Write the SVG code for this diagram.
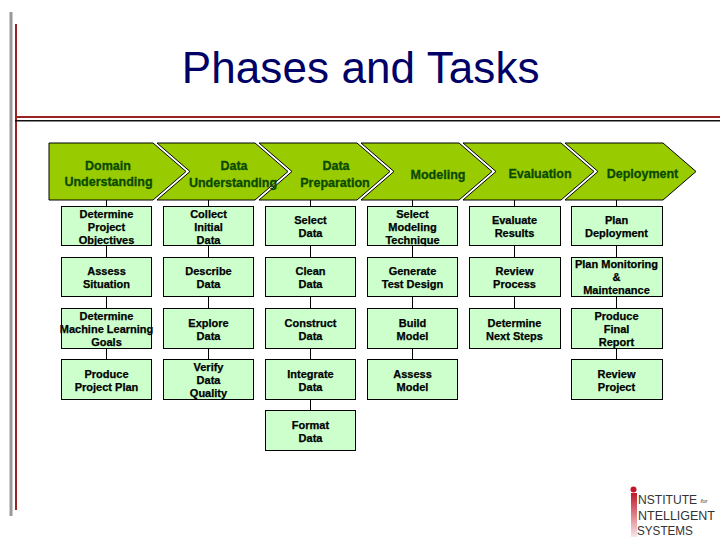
<svg xmlns="http://www.w3.org/2000/svg" width="720" height="540" viewBox="0 0 720 540">
<style>
.ph{fill:#99cc00;stroke:#000;stroke-width:1}
.pt{font:bold 12.5px "Liberation Sans",Arial,sans-serif;fill:#0a4a00;stroke:#0a4a00;stroke-width:.3;text-anchor:middle}
.bx{fill:#ccffcc;stroke:#000;stroke-width:1}
.bt{font:bold 11px "Liberation Sans",Arial,sans-serif;fill:#000;stroke:#000;stroke-width:.25;text-anchor:middle}
.lg{font-family:"Liberation Sans",Arial,sans-serif;fill:#333;font-size:13px}
</style>
<defs>
<linearGradient id="fade" x1="0" y1="0" x2="0" y2="1"><stop offset="0" stop-color="#c0182a"/><stop offset="1" stop-color="#c0182a" stop-opacity="0.1"/></linearGradient>
<polygon id="chev" class="ph" points="0,143 98,143 131,171.5 98,200 0,200 33,171.5"/>
</defs>
<rect x="9.5" y="12" width="3" height="504" fill="#999"/>
<rect x="15" y="24" width="2" height="486" fill="#992222"/>
<rect x="15" y="116" width="705" height="2" fill="#992222"/>
<rect x="15" y="120" width="705" height="1.5" fill="#111"/>
<text x="360.700" y="83" text-anchor="middle" font-family="Liberation Sans,Arial,sans-serif" font-size="44" letter-spacing=".1" fill="#000066">Phases and Tasks</text>
<g id="connectors" fill="none" stroke="#000" stroke-width="1">
<path d="M106.500 200V359M208.500 200V359M310.500 200V410M412.500 200V359M514.500 200V308M616.500 200V359"/>
</g>
<g id="phase-deployment"><use href="#chev" x="565"/><text class="pt" x="642.500" y="178">Deployment</text></g>
<g id="phase-evaluation"><use href="#chev" x="463"/><text class="pt" x="540" y="178">Evaluation</text></g>
<g id="phase-modeling"><use href="#chev" x="361"/><text class="pt" x="438" y="178.500">Modeling</text></g>
<g id="phase-preparation"><use href="#chev" x="259"/><text class="pt" x="336" y="170">Data</text><text class="pt" x="335" y="186.500">Preparation</text></g>
<g id="phase-understanding"><use href="#chev" x="157"/><text class="pt" x="234" y="170">Data</text><text class="pt" x="233" y="186.500">Understanding</text></g>
<g id="phase-domain"><polygon class="ph" points="49,143 153,143 186,171.5 153,200 49,200"/><text class="pt" x="108" y="169.500">Domain</text><text class="pt" x="108.500" y="186">Understanding</text></g>

<g id="t11"><rect class="bx" x="61.500" y="206.500" width="90" height="39"/><text class="bt" x="106.500" y="218">Determine</text><text class="bt" x="106.500" y="231">Project</text><text class="bt" x="106.500" y="244">Objectives</text></g>
<g id="t12"><rect class="bx" x="61.500" y="257.500" width="90" height="39"/><text class="bt" x="106.500" y="275">Assess</text><text class="bt" x="106.500" y="288">Situation</text></g>
<g id="t13"><rect class="bx" x="61.500" y="308.500" width="90" height="40"/><text class="bt" x="106.500" y="320">Determine</text><text class="bt" x="106.500" y="333">Machine Learning</text><text class="bt" x="106.500" y="346">Goals</text></g>
<g id="t14"><rect class="bx" x="61.500" y="359.500" width="90" height="40"/><text class="bt" x="106.500" y="378">Produce</text><text class="bt" x="106.500" y="391">Project Plan</text></g>

<g id="t21"><rect class="bx" x="163.500" y="206.500" width="90" height="39"/><text class="bt" x="208.500" y="218">Collect</text><text class="bt" x="208.500" y="231">Initial</text><text class="bt" x="208.500" y="244">Data</text></g>
<g id="t22"><rect class="bx" x="163.500" y="257.500" width="90" height="39"/><text class="bt" x="208.500" y="275">Describe</text><text class="bt" x="208.500" y="288">Data</text></g>
<g id="t23"><rect class="bx" x="163.500" y="308.500" width="90" height="40"/><text class="bt" x="208.500" y="327">Explore</text><text class="bt" x="208.500" y="340">Data</text></g>
<g id="t24"><rect class="bx" x="163.500" y="359.500" width="90" height="40"/><text class="bt" x="208.500" y="371">Verify</text><text class="bt" x="208.500" y="384">Data</text><text class="bt" x="208.500" y="397">Quality</text></g>

<g id="t31"><rect class="bx" x="265.500" y="206.500" width="90" height="39"/><text class="bt" x="310.500" y="224">Select</text><text class="bt" x="310.500" y="237">Data</text></g>
<g id="t32"><rect class="bx" x="265.500" y="257.500" width="90" height="39"/><text class="bt" x="310.500" y="275">Clean</text><text class="bt" x="310.500" y="288">Data</text></g>
<g id="t33"><rect class="bx" x="265.500" y="308.500" width="90" height="40"/><text class="bt" x="310.500" y="327">Construct</text><text class="bt" x="310.500" y="340">Data</text></g>
<g id="t34"><rect class="bx" x="265.500" y="359.500" width="90" height="40"/><text class="bt" x="310.500" y="378">Integrate</text><text class="bt" x="310.500" y="391">Data</text></g>
<g id="t35"><rect class="bx" x="265.500" y="410.500" width="90" height="40"/><text class="bt" x="310.500" y="429">Format</text><text class="bt" x="310.500" y="442">Data</text></g>

<g id="t41"><rect class="bx" x="367.500" y="206.500" width="90" height="39"/><text class="bt" x="412.500" y="218">Select</text><text class="bt" x="412.500" y="231">Modeling</text><text class="bt" x="412.500" y="244">Technique</text></g>
<g id="t42"><rect class="bx" x="367.500" y="257.500" width="90" height="39"/><text class="bt" x="412.500" y="275">Generate</text><text class="bt" x="412.500" y="288">Test Design</text></g>
<g id="t43"><rect class="bx" x="367.500" y="308.500" width="90" height="40"/><text class="bt" x="412.500" y="327">Build</text><text class="bt" x="412.500" y="340">Model</text></g>
<g id="t44"><rect class="bx" x="367.500" y="359.500" width="90" height="40"/><text class="bt" x="412.500" y="378">Assess</text><text class="bt" x="412.500" y="391">Model</text></g>

<g id="t51"><rect class="bx" x="469.500" y="206.500" width="91" height="39"/><text class="bt" x="514.500" y="224">Evaluate</text><text class="bt" x="514.500" y="237">Results</text></g>
<g id="t52"><rect class="bx" x="469.500" y="257.500" width="91" height="39"/><text class="bt" x="514.500" y="275">Review</text><text class="bt" x="514.500" y="288">Process</text></g>
<g id="t53"><rect class="bx" x="469.500" y="308.500" width="91" height="40"/><text class="bt" x="514.500" y="327">Determine</text><text class="bt" x="514.500" y="340">Next Steps</text></g>

<g id="t61"><rect class="bx" x="571.500" y="206.500" width="91" height="39"/><text class="bt" x="616.500" y="224">Plan</text><text class="bt" x="616.500" y="237">Deployment</text></g>
<g id="t62"><rect class="bx" x="571.500" y="257.500" width="91" height="39"/><text class="bt" x="616.500" y="268">Plan Monitoring</text><text class="bt" x="616.500" y="281">&amp;</text><text class="bt" x="616.500" y="294">Maintenance</text></g>
<g id="t63"><rect class="bx" x="571.500" y="308.500" width="91" height="40"/><text class="bt" x="616.500" y="320">Produce</text><text class="bt" x="616.500" y="333">Final</text><text class="bt" x="616.500" y="346">Report</text></g>
<g id="t64"><rect class="bx" x="571.500" y="359.500" width="91" height="40"/><text class="bt" x="616.500" y="378">Review</text><text class="bt" x="616.500" y="391">Project</text></g>

<g id="logo">
<rect x="631" y="493" width="6" height="44" fill="url(#fade)"/>
<circle cx="633.500" cy="489.500" r="3" fill="#c0182a"/>
<text class="lg" transform="translate(638 504) scale(.93 1)">NSTITUTE</text>
<text x="700.500" y="503" font-family="Liberation Sans,Arial,sans-serif" fill="#333" font-size="6" font-style="italic">for</text>
<text class="lg" transform="translate(638 519.500) scale(.96 1)">NTELLIGENT</text>
<text class="lg" transform="translate(637 534.800) scale(.9 1)">SYSTEMS</text>
</g>
</svg>
